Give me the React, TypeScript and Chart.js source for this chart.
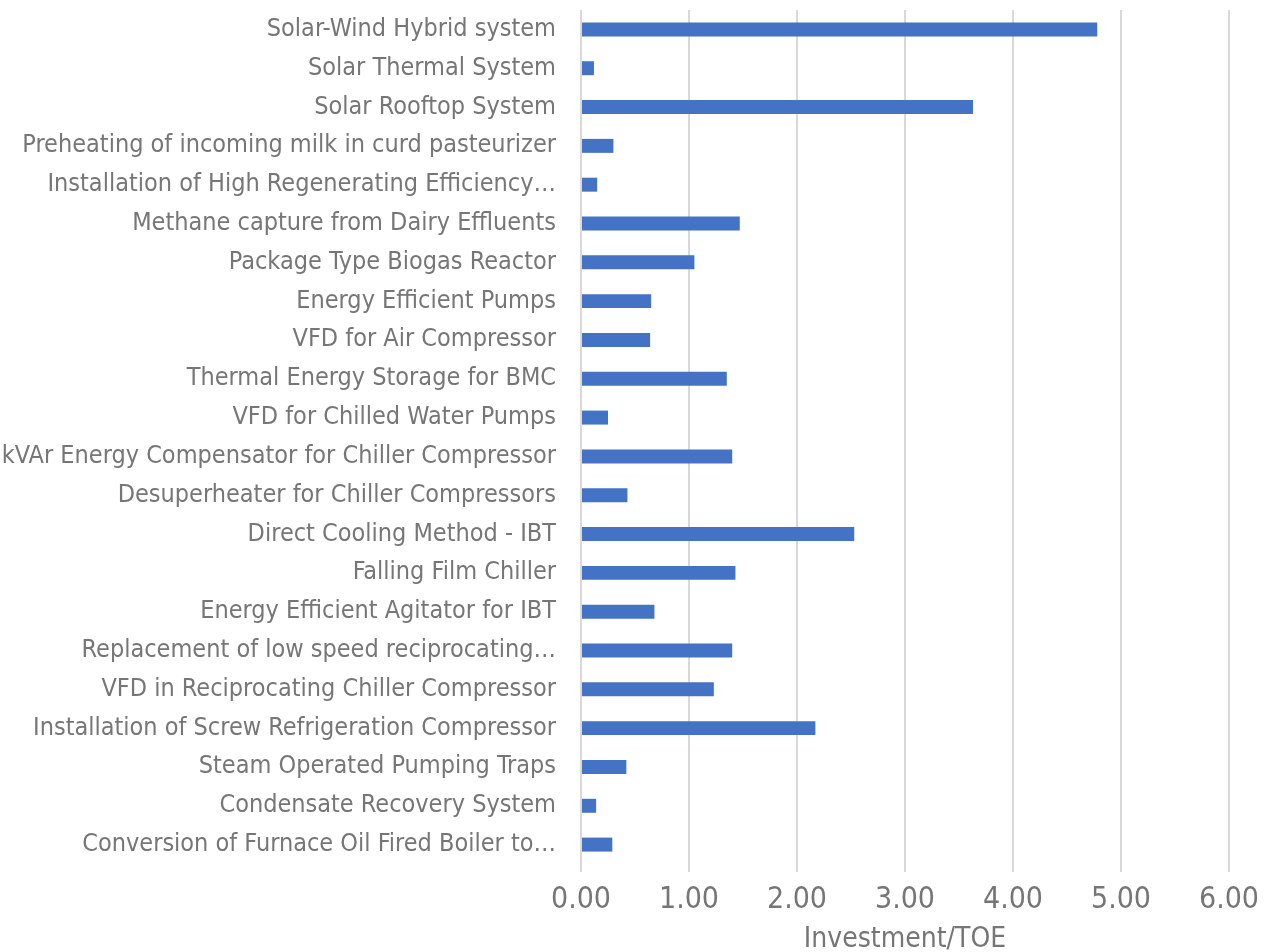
import React, { useEffect, useRef } from "react";
import { Chart, registerables } from "chart.js";

Chart.register(...registerables);

const categories: string[] = [
  "Solar-Wind Hybrid system",
  "Solar Thermal System",
  "Solar Rooftop System",
  "Preheating of incoming milk in curd pasteurizer",
  "Installation of High Regenerating Efficiency…",
  "Methane capture from Dairy Effluents",
  "Package Type Biogas Reactor",
  "Energy Efficient Pumps",
  "VFD for Air Compressor",
  "Thermal Energy Storage for BMC",
  "VFD for Chilled Water Pumps",
  "kVAr Energy Compensator for Chiller Compressor",
  "Desuperheater for Chiller Compressors",
  "Direct Cooling Method - IBT",
  "Falling Film Chiller",
  "Energy Efficient Agitator for IBT",
  "Replacement of low speed reciprocating…",
  "VFD in Reciprocating Chiller Compressor",
  "Installation of Screw Refrigeration Compressor",
  "Steam Operated Pumping Traps",
  "Condensate Recovery System",
  "Conversion of Furnace Oil Fired Boiler to…",
];

const investmentPerToe: number[] = [
  4.78, 0.12, 3.63, 0.3, 0.15, 1.47, 1.05, 0.65, 0.64, 1.35, 0.25, 1.4, 0.43,
  2.53, 1.43, 0.68, 1.4, 1.23, 2.17, 0.42, 0.14, 0.29,
];

const xTickValues: number[] = [0, 1, 2, 3, 4, 5, 6];
const xAxisTitle = "Investment/TOE";

const FONT = "'Liberation Sans Narrow', 'DejaVu Sans Condensed', sans-serif";
const TEXT = "#767676";

export default function App() {
  const ref = useRef<HTMLCanvasElement | null>(null);
  useEffect(() => {
    if (!ref.current) return;
    const chart = new Chart(ref.current, {
      type: "bar",
      data: {
        labels: categories,
        datasets: [
          {
            data: investmentPerToe,
            backgroundColor: "#4472C4",
            borderWidth: 0,
            barPercentage: 0.36,
            categoryPercentage: 1,
          },
        ],
      },
      options: {
        indexAxis: "y",
        animation: false,
        responsive: false,
        layout: {
          autoPadding: false,
          padding: { top: 10, right: 37, left: 0, bottom: 0 },
        },
        plugins: { legend: { display: false }, tooltip: { enabled: false } },
        scales: {
          x: {
            min: xTickValues[0],
            max: xTickValues[xTickValues.length - 1],
            afterBuildTicks: (s: any) => {
              s.ticks = xTickValues.map((v) => ({ value: v }));
            },
            afterFit: (s: any) => {
              s.height = 88;
              s.paddingLeft = 0;
              s.paddingRight = 0;
            },
            ticks: {
              color: TEXT,
              font: { family: FONT, size: 30 },
              padding: 10,
              maxRotation: 0,
              callback: (v: any) => Number(v).toFixed(2),
            },
            grid: { color: "#d9d9d9", lineWidth: 2, tickLength: 8 },
            border: { display: false },
            title: {
              display: true,
              text: xAxisTitle,
              color: TEXT,
              font: { family: FONT, size: 28, lineHeight: 0.85 },
              padding: 0,
            },
          },
          y: {
            afterFit: (s: any) => {
              s.width = 581;
              s.paddingTop = 0;
              s.paddingBottom = 0;
            },
            ticks: {
              color: TEXT,
              font: { family: FONT, size: 25 },
              padding: 25,
              autoSkip: false,
            },
            grid: { display: false, drawTicks: false },
            border: { display: false },
          },
        },
      },
    });
    return () => chart.destroy();
  }, []);
  return (
    <div style={{ position: "fixed", left: 0, top: 0, width: 1266, height: 952 }}>
      <canvas ref={ref} width={1266} height={952} style={{ display: "block" }} />
    </div>
  );
}
